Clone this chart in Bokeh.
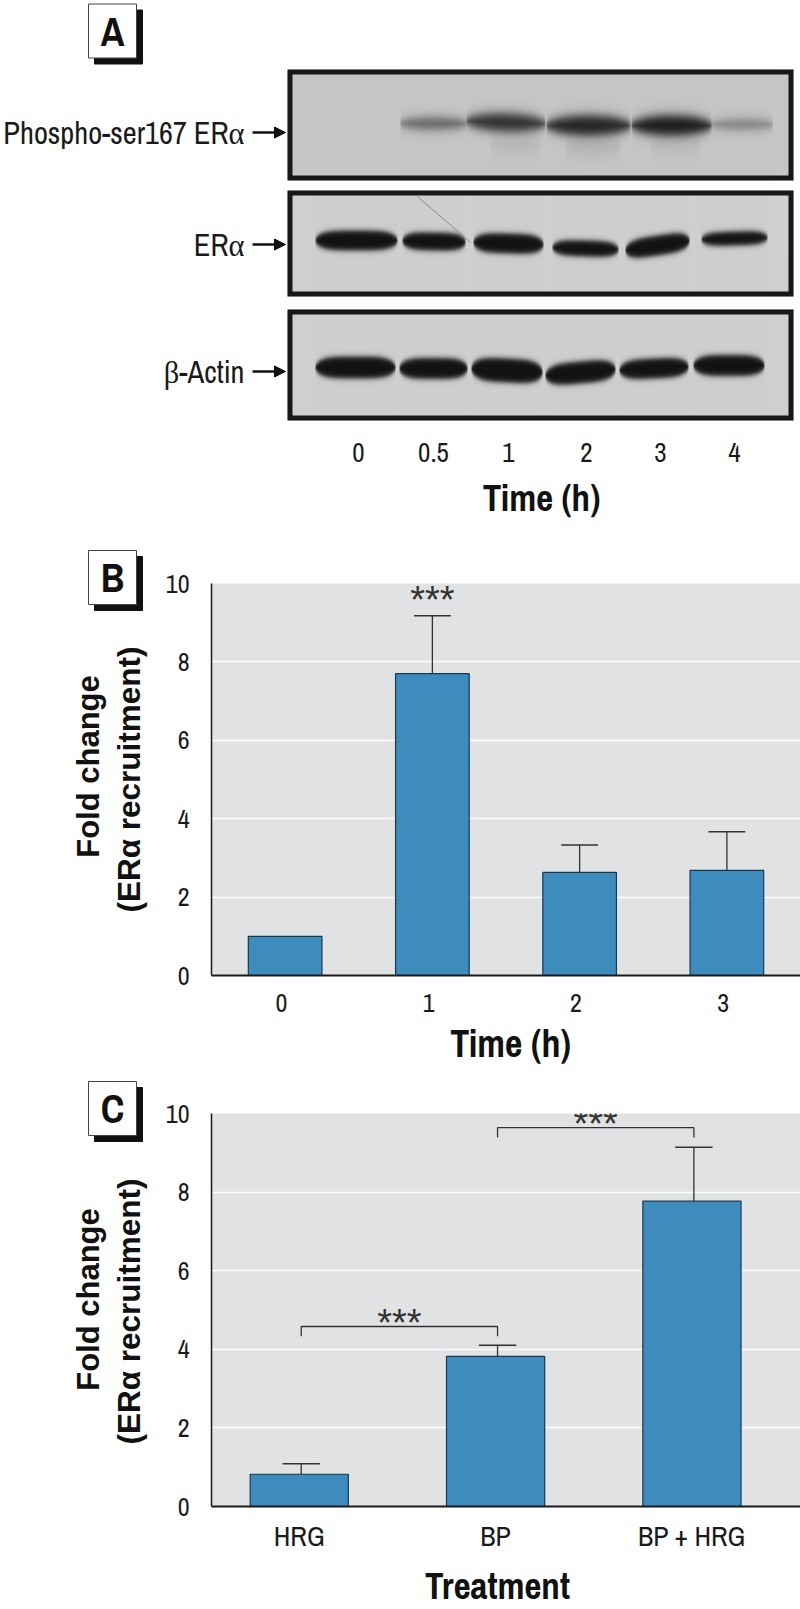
import math
import numpy as np
from bokeh.plotting import figure
from bokeh.models import Range1d, FixedTicker, Arrow, NormalHead
from bokeh.core.properties import value
from bokeh.embed import file_html
from bokeh.resources import INLINE

NARROW = "Archivo Narrow"
ARIAL = "Liberation Sans"

# Panel A
blot_labels = ["Phospho-ser167 ER\u03b1", "ER\u03b1", "\u03b2-Actin"]
lane_labels = ["0", "0.5", "1", "2", "3", "4"]
lane_x = [358, 433, 508, 586, 660, 734]
blot_boxes = [(69, 180), (190, 296), (309, 420)]
blot_arrow_y = [132, 244, 371]
# x0, x1, y centre, half height, darkness, slope
bands_1 = [(400, 466, 123, 6, .55, 0), (466, 545, 122, 9, .85, .03), (546, 630, 125, 10, .92, 0), (631, 711, 125, 10, .97, 0),
           (711, 772, 124, 5, .40, 0), (490, 540, 144, 8, .08, 0), (565, 620, 146, 8, .10, 0), (650, 700, 145, 7, .07, 0)]
bands_2 = [(315, 397, 240, 10, 1.0, 0), (402, 465, 241, 9, 1.0, .02), (473, 543, 243, 10, 1.0, .03), (552, 618, 248, 8, 1.0, .03),
           (625, 689, 245, 10, 1.0, -.15), (701, 767, 238, 7, 1.0, -.03)]
bands_3 = [(315, 395, 367, 11, 1.0, 0), (399, 467, 368, 10.5, 1.0, 0), (471, 542, 370, 12, 1.0, .05), (545, 615, 372, 11, 1.0, -.09),
           (619, 688, 368, 10, 1.0, -.05), (693, 764, 365, 10.5, 1.0, 0)]
blot_bands = [bands_1, bands_2, bands_3]
blot_bg = [198, 207, 207]
scratch_x = [417, 470]
scratch_y = [196, 242]

# Panel letters
panel_letters = ["A", "B", "C"]
panel_tops = [3.5, 550, 1081]

# Panel B
times_b = ["0", "1", "2", "3"]
fold_b = [1.0, 7.7, 2.63, 2.68]
err_b = [None, 9.18, 3.33, 3.67]

# Panel C
treat_c = ["HRG", "BP", "BP + HRG"]
fold_c = [0.82, 3.82, 7.77]
err_c = [1.09, 4.10, 9.14]
bracket_from = [0, 1]
bracket_to = [1, 2]
bracket_y = [4.58, 9.64]

Y_TICKS = [0, 2, 4, 6, 8, 10]
BAR = "#3E8CBD"
EDGE = "#17384f"
PLOT_BG = "#E1E2E4"

# ---- Overlay figure in page coordinates: panel A and every text outside the chart frames
a = figure(width=800, height=1609, x_range=Range1d(0, 800), y_range=Range1d(1609, 0), toolbar_location=None,
           output_backend="svg", min_border=0, outline_line_color=None, background_fill_color=None,
           border_fill_color=None, styles={"position": "absolute", "left": "0px", "top": "0px", "z-index": "10"})
a.axis.visible = False
a.grid.visible = False

X0, X1 = 287, 793
for (top, bot), bands, bg in zip(blot_boxes, blot_bands, blot_bg):
    xs = np.arange(X0, X1) + .5
    ys = np.arange(top, bot) + .5
    X, Y = np.meshgrid(xs, ys)
    keep = np.ones_like(X)
    first = bands is bands_1
    for x0, x1, yc, hh, d, sl in bands:
        soft = (5.0 if d < .2 else 3.0) if first else 1.5
        xc, hw = (x0 + x1) / 2, (x1 - x0) / 2
        u = np.clip(np.abs(X - xc) / hw, 0, 1)
        local = hh * np.sqrt(np.clip(1 - u ** (2 if first else 4), 0, 1))
        dist = np.abs(Y - (yc + sl * (X - xc)))
        f = 1 / (1 + np.exp((dist - local) / soft)) * (local > 0)
        keep *= 1 - d * f
    g = np.clip(18 + (bg - 18) * keep, 0, 255).astype(np.uint8)
    img = np.zeros(g.shape, dtype=np.uint32)
    v = img.view(dtype=np.uint8).reshape((g.shape[0], g.shape[1], 4))
    v[..., 0] = g; v[..., 1] = g; v[..., 2] = g; v[..., 3] = 255
    a.image_rgba(image=[img], x=X0, y=top, dw=X1 - X0, dh=bot - top)
    a.quad(left=[X0 + 2.5], right=[X1 - 2.5], top=[top + 2.5], bottom=[bot - 2.5], fill_alpha=0,
           line_color="#181818", line_width=5, line_join="miter")
a.line(x=scratch_x, y=scratch_y, line_color="#8b8d8d", line_width=1)

def page_text(x, y, t, font=NARROW, size="26px", bold=False, angle=0, align="center", color="#1a1a1a"):
    a.text(x=[x], y=[y], text=[t], text_font=value(font), text_font_size=size, angle=angle, text_align=align,
           text_font_style=value("bold" if bold else "normal"), text_baseline="middle", text_color=color)

for lab, y in zip(blot_labels, blot_arrow_y):
    page_text(244, y, lab, size="30.5px", align="right")
    a.add_layout(Arrow(x_start=252, y_start=y, x_end=285, y_end=y, line_width=2.5, line_color="#111111",
                       end=NormalHead(size=11, fill_color="#111111", line_color="#111111")))
for x, t in zip(lane_x, lane_labels):
    page_text(x, 452, t, size="27px")
page_text(541, 497, "Time (h)", size="37px", bold=True, color="#111111")
page_text(510, 1043, "Time (h)", size="38px", bold=True, color="#111111")
page_text(497, 1585, "Treatment", size="37px", bold=True, color="#111111")

for letter, top in zip(panel_letters, panel_tops):
    a.quad(left=[94], right=[142], top=[top + 6], bottom=[top + 60], fill_color="#111111", line_color="#111111")
    a.quad(left=[88], right=[136], top=[top], bottom=[top + 54], fill_color="white", line_color="#444444", line_width=1)
    page_text(112, top + 27, letter, size="40px", bold=True, color="#111111")

for cy1, cy2 in ((766, 779), (1299, 1311)):
    page_text(88, cy1, "Fold change", font=ARIAL, size="31px", bold=True, angle=math.pi / 2, color="#111111")
    page_text(128, cy2, "(ER\u03b1 recruitment)", font=ARIAL, size="31.5px", bold=True, angle=math.pi / 2, color="#111111")

# ---- Chart panels
def chart(height, top_border, bottom_border, xr, ticks, labels, page_top, xsize, standoff):
    p = figure(width=800, height=height, x_range=xr, y_range=Range1d(0, 10), toolbar_location=None,
               output_backend="svg", min_border_left=211, min_border_right=0, min_border_top=top_border,
               min_border_bottom=bottom_border, outline_line_color=None, background_fill_color=PLOT_BG,
               styles={"position": "absolute", "left": "0px", "top": f"{page_top}px"})
    p.xgrid.visible = False
    p.ygrid.ticker = FixedTicker(ticks=Y_TICKS[1:-1])
    p.ygrid.grid_line_color = "white"
    p.ygrid.grid_line_width = 1.5
    p.yaxis.ticker = FixedTicker(ticks=Y_TICKS)
    p.xaxis.ticker = FixedTicker(ticks=ticks)
    p.xaxis.major_label_overrides = {t: l for t, l in zip(ticks, labels)}
    for ax in (p.xaxis[0], p.yaxis[0]):
        ax.major_tick_line_color = None
        ax.minor_tick_line_color = None
        ax.major_label_text_font = NARROW
        ax.major_label_text_color = "#1a1a1a"
        ax.axis_line_color = "#1a1a1a"
    p.yaxis.major_label_text_font_size = "26px"
    p.xaxis.major_label_text_font_size = xsize
    p.xaxis.axis_line_width = 2
    p.yaxis.axis_line_width = 1.5
    p.yaxis.major_label_standoff = 16
    p.xaxis.major_label_standoff = standoff
    return p

def stars(p, x, y):
    p.text(x=[x], y=[y], text=["***"], text_font=value(ARIAL), text_font_size="38px", text_align="center",
           text_baseline="middle", text_color="#333333")

# Panel B: page 535..1060, frame 583..975
b = chart(525, 48, 85, Range1d(-0.5, 3.5), [i - .025 for i in range(4)], times_b, 535, "26px", 12)
xb = list(range(len(fold_b)))
b.vbar(x=xb, top=fold_b, width=0.5, fill_color=BAR, line_color=EDGE, line_width=1.2)
eb = [(x, e, f) for x, e, f in zip(xb, err_b, fold_b) if e is not None]
b.segment(x0=[i[0] for i in eb], x1=[i[0] for i in eb], y0=[i[2] for i in eb], y1=[i[1] for i in eb],
          line_color="#333333", line_width=1.3)
b.segment(x0=[i[0] - .125 for i in eb], x1=[i[0] + .125 for i in eb], y0=[i[1] for i in eb], y1=[i[1] for i in eb],
          line_color="#333333", line_width=1.5)
stars(b, 1, 9.57)

# Panel C: page 1060..1609, frame 1113..1506
c = chart(549, 53, 103, Range1d(-0.447, 2.553), [0, 1, 2], treat_c, 1060, "28px", 4)
xc = list(range(len(fold_c)))
c.vbar(x=xc, top=fold_c, width=0.5, fill_color=BAR, line_color=EDGE, line_width=1.2)
xe = [i + .01 for i in xc]
c.segment(x0=xe, x1=xe, y0=fold_c, y1=err_c, line_color="#333333", line_width=1.3)
c.segment(x0=[i - .095 for i in xe], x1=[i + .095 for i in xe], y0=err_c, y1=err_c, line_color="#333333", line_width=1.5)
for f, t, y in zip(bracket_from, bracket_to, bracket_y):
    xs = [f + .01, f + .01, t + .01, t + .01]
    ys = [y - .25, y, y, y - .25]
    c.line(x=xs, y=ys, line_color="#333333", line_width=1.3)
    stars(c, (f + t) / 2 + .01, y + .09)

open("out.html", "w").write(file_html((a, b, c), INLINE))
